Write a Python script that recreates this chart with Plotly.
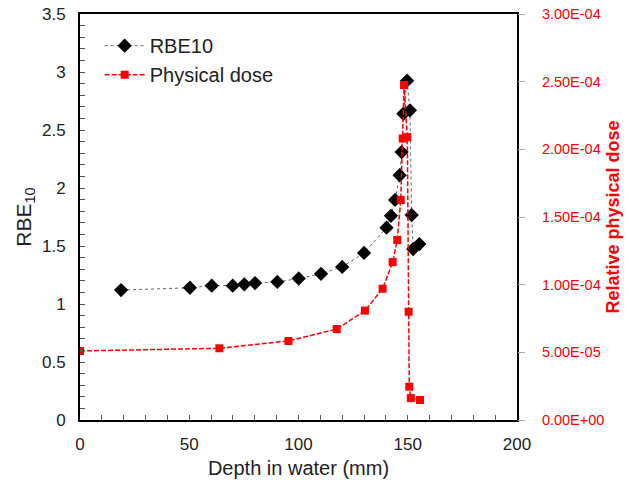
import plotly.graph_objects as go

rbe_depth = [18.8, 50.3, 60.3, 69.9, 75.2, 80.1, 90.3, 100.1, 110.3, 120.0, 130.0, 140.3, 142.3,
             144.2, 146.3, 147.2, 148.0, 149.7, 151.0, 151.8, 152.5, 155.3]
rbe_vals = [1.12, 1.14, 1.158, 1.158, 1.17, 1.18, 1.19, 1.22, 1.26, 1.32, 1.44, 1.658, 1.76,
            1.897, 2.11, 2.31, 2.64, 2.925, 2.67, 1.767, 1.474, 1.517]

dose_depth = [0.0, 63.8, 95.4, 117.5, 130.4, 138.5, 143.1, 145.2, 146.8, 147.7, 148.3, 149.8,
              150.4, 150.7, 151.4, 155.6]
dose_vals = [5.10e-5, 5.30e-5, 5.84e-5, 6.72e-5, 8.08e-5, 9.70e-5, 1.167e-4, 1.33e-4, 1.626e-4,
             2.08e-4, 2.475e-4, 2.09e-4, 8.0e-5, 2.46e-5, 1.62e-5, 1.48e-5]

right_tickvals = [0, 5e-5, 1e-4, 1.5e-4, 2e-4, 2.5e-4, 3e-4]
right_ticktext = ["0.00E+00", "5.00E-05", "1.00E-04", "1.50E-04", "2.00E-04", "2.50E-04", "3.00E-04"]

FONT = "Liberation Sans, Arial, sans-serif"

fig = go.Figure()
fig.add_trace(go.Scatter(
    x=rbe_depth, y=rbe_vals, name="RBE10", mode="lines+markers",
    line=dict(color="#666666", width=1, dash="dot"),
    marker=dict(symbol="diamond", size=11, color="black"),
))
fig.add_trace(go.Scatter(
    x=dose_depth, y=dose_vals, name="Physical dose", mode="lines+markers", yaxis="y2",
    line=dict(color="#ff0000", width=1.5, dash="5px,2px"),
    marker=dict(symbol="square", size=8, color="#ff0000"),
))

fig.update_layout(
    width=629, height=484,
    margin=dict(l=80, r=112, t=14, b=64, autoexpand=False),
    paper_bgcolor="white", plot_bgcolor="white",
    font=dict(family=FONT, color="#222222", size=16),
    showlegend=True,
    legend=dict(x=0.045, y=0.97, xanchor="left", yanchor="top", bgcolor="rgba(0,0,0,0)",
                font=dict(size=20, family=FONT, color="#222222"), itemwidth=40,
                tracegroupgap=2),
    xaxis=dict(range=[0, 200], tickvals=[0, 50, 100, 150, 200], showgrid=False, zeroline=False,
               showline=True, linecolor="black", linewidth=2, mirror=True,
               ticks="inside", ticklen=5, tickcolor="#555", tickwidth=1,
               minor=dict(dtick=10, ticks="inside", ticklen=5, tickcolor="#555", tickwidth=1),
               ticklabelstandoff=8, ticklabeloverflow="allow",
               tickfont=dict(size=17), title=dict(text="Depth in water (mm)", font=dict(size=20), standoff=8)),
    yaxis=dict(range=[0, 3.5], tickvals=[0, 0.5, 1, 1.5, 2, 2.5, 3, 3.5],
               ticktext=["0", "0.5", "1", "1.5", "2", "2.5", "3", "3.5"],
               showgrid=False, zeroline=False,
               showline=True, linecolor="black", linewidth=2, mirror=True,
               ticks="inside", ticklen=5, tickcolor="#555", tickwidth=1,
               minor=dict(dtick=0.1, ticks="inside", ticklen=5, tickcolor="#555", tickwidth=1),
               ticklabelstandoff=9, ticklabeloverflow="allow",
               tickfont=dict(size=17), title=dict(text="RBE<sub>10</sub>", font=dict(size=21), standoff=5)),
    yaxis2=dict(range=[0, 3e-4], overlaying="y", side="right", tickvals=right_tickvals,
                ticktext=right_ticktext, showgrid=False, zeroline=False, showline=False,
                ticks="outside", ticklen=7, tickcolor="#aaaaaa", tickwidth=1,
                ticklabelstandoff=14, ticklabeloverflow="allow",
                tickfont=dict(size=14.5, color="#ff0000"),
                title=dict(text="<b>Relative physical dose</b>", font=dict(size=18, color="#ff0000"), standoff=2)),
)

fig.write_html("out.html", config={"displayModeBar": False},
               post_script="document.body.style.margin='0';")
